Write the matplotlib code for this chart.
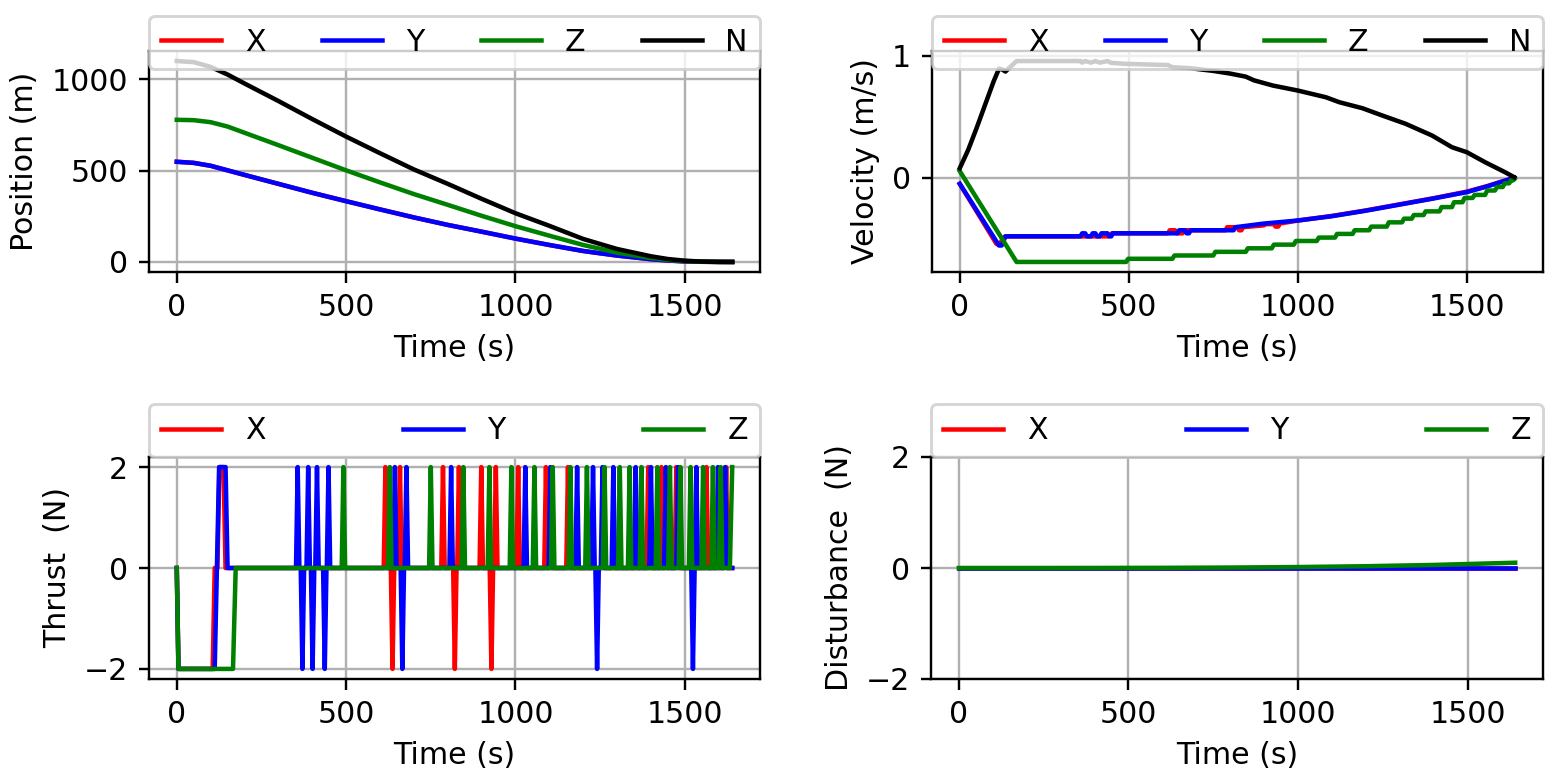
import numpy as np
import matplotlib
matplotlib.use("Agg")
import matplotlib.pyplot as plt

# ---- position (m) ----
pos_t = [0, 50, 100, 150, 200, 300, 400, 500, 600, 700, 800, 900, 1000,
         1100, 1200, 1300, 1400, 1450, 1500, 1550, 1600, 1640]
pos_x = [549, 543, 527, 502, 477, 428, 379, 333, 288, 244, 203, 166, 128,
         93, 60, 35, 15, 8, 3, 1, 0.2, 0]
pos_y = [549, 543, 527, 502, 477, 428, 379, 333, 288, 244, 203, 166, 128,
         93, 60, 35, 15, 8, 3, 1, 0.2, 0]
pos_z = [779, 777, 766, 742, 708, 640, 571, 502, 436, 372, 313, 253, 196,
         144, 93, 51, 22, 11, 5, 1.5, 0.3, 0]
pos_n = [1101, 1095, 1069, 1027, 978, 882, 783, 687, 596, 507, 428, 346, 267,
         198, 126, 71, 31, 16, 7, 2, 0.4, 0]

# ---- velocity (m/s) ----
vel_t_x = [0, 108, 116, 130, 135, 440, 450, 616, 621, 637, 642, 659, 664, 786, 791,
           821, 826, 833, 838, 899, 904, 929, 934, 942, 947, 1000, 1100, 1200,
           1300, 1400, 1500, 1560, 1600, 1640]
vel_x = [-0.049, -0.54, -0.55, -0.49, -0.48, -0.48, -0.455, -0.455, -0.43, -0.43,
         -0.455, -0.455, -0.43, -0.43, -0.405, -0.405, -0.43, -0.43, -0.405, -0.39,
         -0.38, -0.38, -0.40, -0.40, -0.375, -0.35, -0.313, -0.268, -0.218, -0.168,
         -0.113, -0.068, -0.033, 0.0]
vel_t_y = [0, 116, 124, 135, 357, 362, 371, 376, 388, 393, 401, 406, 414, 419,
           437, 442, 448, 453, 644, 649, 666, 671, 678, 683, 810, 815, 900, 1000,
           1100, 1200, 1300, 1400, 1500, 1560, 1600, 1640]
vel_y = [-0.049, -0.555, -0.555, -0.48, -0.48, -0.455, -0.455, -0.48, -0.48, -0.455,
         -0.455, -0.48, -0.48, -0.455, -0.455, -0.48, -0.48, -0.455, -0.455, -0.43,
         -0.43, -0.455, -0.455, -0.43, -0.43, -0.405, -0.375, -0.35, -0.315, -0.27,
         -0.22, -0.17, -0.117, -0.07, -0.035, 0.0]
vel_t_z = [0, 168, 492, 629, 750, 846, 923, 988, 1056, 1110, 1162, 1211, 1263,
           1308, 1337, 1372, 1419, 1456, 1487, 1517, 1554, 1583, 1606, 1625, 1637]
vel_z = [0.055, -0.69, -0.664, -0.637, -0.607, -0.578, -0.548, -0.518, -0.49, -0.46,
         -0.43, -0.40, -0.365, -0.335, -0.305, -0.275, -0.24, -0.2, -0.165, -0.14,
         -0.104, -0.075, -0.045, -0.02, -0.005]
vel_t_n = [0, 25, 50, 75, 100, 116, 125, 135, 168, 357, 362, 371, 388, 401, 414,
           437, 448, 492, 616, 629, 680, 750, 800, 846, 870, 926, 1000, 1083, 1123,
           1191, 1250, 1319, 1397, 1456, 1500, 1554, 1613, 1640]
vel_n = [0.079, 0.23, 0.41, 0.60, 0.79, 0.895, 0.89, 0.872, 0.958, 0.958, 0.945,
         0.958, 0.945, 0.958, 0.945, 0.958, 0.943, 0.935, 0.925, 0.907, 0.90, 0.877,
         0.855, 0.83, 0.80, 0.757, 0.716, 0.661, 0.62, 0.571, 0.511, 0.443, 0.347,
         0.251, 0.21, 0.128, 0.046, 0.005]

# ---- thrust (N): start phase + spike times ----
thr_x_start = [(0, 0), (5, -2), (106, -2), (112, 0), (120, 0), (126, 2), (138, 2), (144, 0)]
thr_y_start = [(0, 0), (5, -2), (112, -2), (125, 2), (144, 2), (150, 0)]
thr_z_start = [(0, 0), (5, -2), (166, -2), (174, 0)]
thr_x_up = [616, 659, 786, 833, 899, 942, 1008, 1090, 1155, 1392, 1431, 1475, 1564, 1622]
thr_x_down = [637, 821, 929]
thr_y_up = [357, 388, 414, 448, 644, 678, 810, 1029, 1103, 1182, 1229, 1257, 1289,
            1355, 1400, 1444, 1480, 1534, 1598, 1619]
thr_y_down = [371, 401, 437, 666, 1241, 1524]
thr_z_up = [492, 629, 750, 846, 923, 988, 1056, 1110, 1162, 1211, 1263, 1308, 1337,
            1372, 1419, 1456, 1487, 1517, 1554, 1583, 1606]
thr_z_down = []
t_end = 1640

# ---- disturbance (N) ----
dist_t = [0, 200, 400, 600, 800, 1000, 1200, 1400, 1640]
dist_x = [0, 0, 0, 0, 0, 0, 0, 0, 0]
dist_y = [0, 0, 0, 0, 0, 0, 0, 0, 0]
dist_z = [0, 0, 0.001, 0.003, 0.008, 0.017, 0.032, 0.055, 0.095]


def pulses(start, ups, downs, end):
    t = [p[0] for p in start]
    v = [p[1] for p in start]
    ev = sorted([(s, 2) for s in ups] + [(s, -2) for s in downs])
    for s, a in ev:
        t += [s - 5, s, s + 5]
        v += [0, a, 0]
    for p in end:
        t.append(p[0])
        v.append(p[1])
    return t, v


W, H = 1562, 784
DPI = 216
fig = plt.figure(figsize=(W / DPI, H / DPI), dpi=DPI)


def make_ax(l, r, top, bot):
    return fig.add_axes([l / W, 1 - bot / H, (r - l) / W, (bot - top) / H])


ax1 = make_ax(149, 760, 51, 272)
ax2 = make_ax(932, 1543, 51, 272)
ax3 = make_ax(149, 760, 457, 679)
ax4 = make_ax(931, 1543, 457, 679)

ax1.plot(pos_t, pos_x, 'r', label='X')
ax1.plot(pos_t, pos_y, 'b', label='Y')
ax1.plot(pos_t, pos_z, 'g', label='Z')
ax1.plot(pos_t, pos_n, 'k', label='N')
ax1.set_ylabel('Position (m)')

ax2.plot(vel_t_x, vel_x, 'r', label='X')
ax2.plot(vel_t_y, vel_y, 'b', label='Y')
# Z velocity drawn as small stairs at each thrust pulse
zt, zv = [vel_t_z[0], vel_t_z[1]], [vel_z[0], vel_z[1]]
for i in range(2, len(vel_t_z)):
    zt += [vel_t_z[i], vel_t_z[i] + 6]
    zv += [vel_z[i - 1], vel_z[i]]
zt.append(t_end); zv.append(0.0)
ax2.plot(zt, zv, 'g', label='Z')
ax2.plot(vel_t_n, vel_n, 'k', label='N')
ax2.set_ylabel('Velocity (m/s)')

tx, vx = pulses(thr_x_start, thr_x_up, thr_x_down, [(t_end, 0)])
ty, vy = pulses(thr_y_start, thr_y_up, thr_y_down, [(t_end, 0)])
tz, vz = pulses(thr_z_start, thr_z_up, thr_z_down, [(1633, 0), (t_end, 2)])
ax3.plot(tx, vx, 'r', label='X')
ax3.plot(ty, vy, 'b', label='Y')
ax3.plot(tz, vz, 'g', label='Z')
ax3.set_ylabel('Thrust  (N)')

ax4.plot(dist_t, dist_x, 'r', label='X')
ax4.plot(dist_t, dist_y, 'b', label='Y')
ax4.plot(dist_t, dist_z, 'g', label='Z')
ax4.set_ylim(-2, 2)
ax4.set_ylabel('Disturbance  (N)')

for ax, ncol, y0 in [(ax1, 4, 0.9186), (ax2, 4, 0.9186), (ax3, 3, 1.0), (ax4, 3, 1.0)]:
    ax.grid(True)
    ax.set_xlabel('Time (s)')
    ax.set_xticks([0, 500, 1000, 1500])
    ax.legend(loc='lower left', bbox_to_anchor=(0, y0, 1, 0.1), mode='expand',
              ncol=ncol, borderaxespad=0)

fig.savefig('out.png', dpi=DPI)
